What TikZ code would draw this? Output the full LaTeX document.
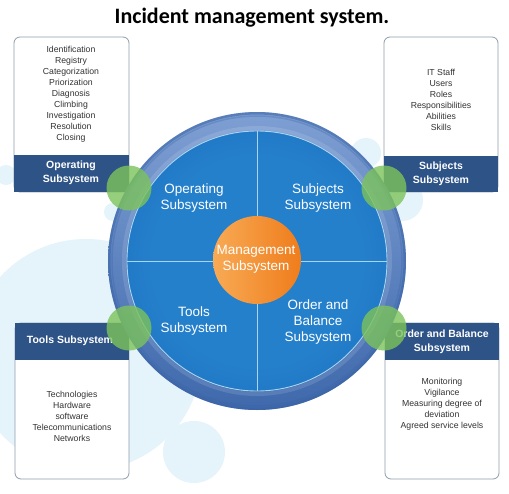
\documentclass[tikz,border=0pt]{standalone}
\usepackage{fontspec}
\setmainfont{Liberation Sans}
\newfontfamily\titlefont{Carlito}
\usetikzlibrary{shadings}
\definecolor{pale}{HTML}{E5F4FB}
\definecolor{band}{HTML}{2E5386}
\definecolor{boxline}{HTML}{8E9DAA}
\definecolor{ringTop}{HTML}{7E9FD3}
\definecolor{ringBot}{HTML}{3F69AC}
\definecolor{ringRim}{HTML}{3A63A6}
\definecolor{blueIn}{HTML}{2580CC}
\definecolor{blueOut}{HTML}{0F5CAB}
\definecolor{crossline}{HTML}{A9D5F2}
\definecolor{orL}{HTML}{F8AA55}
\definecolor{orR}{HTML}{EF7D1C}
\definecolor{grn}{HTML}{7CC35B}
\definecolor{txt}{HTML}{333333}
\pgfdeclareradialshading{innershade}{\pgfpoint{0bp}{0bp}}{color(0bp)=(blueIn); color(20bp)=(blueIn); color(50bp)=(blueOut)}
\tikzset{
  blob/.style={fill=pale, draw=none},
  infobox/.style={draw=boxline, line width=0.8pt, fill=white, rounded corners=6pt},
  bandbox/.style={fill=band, draw=none},
  bandtext/.style={text=white, font=\bfseries\fontsize{10.5}{14}\selectfont, align=center},
  listtext/.style={text=txt, font=\fontsize{8.7}{11}\selectfont, align=center},
  quadtext/.style={text=white, font=\fontsize{13.5}{16}\selectfont, align=center},
  greendot/.style={circle, fill=grn, fill opacity=0.8, draw=none, minimum size=45pt, inner sep=0pt},
}
\begin{document}
\begin{tikzpicture}[x=1pt,y=-1pt]
\useasboundingbox (0,0) rectangle (509,493);
\fill[white] (0,0) rectangle (509,493);
% title
\node[font=\titlefont\bfseries\fontsize{22}{26}\selectfont] (title) at (252,18) {Incident management system.};
% pale background blobs
\fill[blob] (86,355) circle (116);
\fill[blob] (194,452) circle (31);
\fill[blob] (113,212) circle (9);
\fill[blob] (402,200) circle (21);
\fill[blob] (366,153) circle (15);
\fill[blob] (6,175) circle (10);
% boxes
\draw[infobox] (14,37) rectangle (129,192);
\fill[bandbox] (14,155) rectangle (129,192);
\draw[infobox] (384,37) rectangle (498,192);
\fill[bandbox] (384,156) rectangle (498,192);
\draw[infobox] (15,323) rectangle (129,479);
\fill[bandbox] (15,323) rectangle (129,360);
\draw[infobox] (385,323) rectangle (499,479);
\fill[bandbox] (385,323) rectangle (499,360);
% box texts
\node[listtext] (opl) at (71,94.5) {Identification\\Registry\\Categorization\\Priorization\\Diagnosis\\Climbing\\Investigation\\Resolution\\Closing};
\node[listtext] (sul) at (441,99.5) {IT Staff\\Users\\Roles\\Responsibilities\\Abilities\\Skills};
\node[listtext] (tol) at (72,416) {Technologies\\Hardware\\software\\Telecommunications\\Networks};
\node[listtext] (orl) at (442,404) {Monitoring\\Vigilance\\Measuring degree of\\deviation\\Agreed service levels};
\node[bandtext] (opb) at (71,173) {Operating\\Subsystem};
\node[bandtext] (sub) at (441,174) {Subjects\\Subsystem};
\node[bandtext] (tob) at (70,341) {Tools Subsystem};
\node[bandtext] (orb) at (442,342) {Order and Balance\\Subsystem};
% main circle: ring
\shade[top color=ringTop, bottom color=ringBot] (257,261) circle (149);
\draw[ringRim, line width=2.5pt, opacity=0.55] (257,261) circle (147.7);
\draw[ringRim, line width=1.5pt, opacity=0.3] (257,261) circle (145);
\draw[white, line width=4pt, opacity=0.12] (257,261) circle (133);
% inner disc
\shade[shading=innershade] (257,261) circle (130);
\draw[crossline, line width=0.9pt] (257,261) circle (130);
\coordinate (ctop) at (257,131);
\coordinate (cbot) at (257,391);
\coordinate (cleft) at (127,261);
\coordinate (cright) at (387,261);
\draw[crossline, line width=0.9pt] (ctop) -- (cbot);
\draw[crossline, line width=0.9pt] (cleft) -- (cright);
\shade[left color=orL, right color=orR] (257,260) circle (44);
\node[quadtext] (mg) at (256,259.5) {Management\\Subsystem};
\node[quadtext] (q1) at (194,198) {Operating\\Subsystem};
\node[quadtext] (q2) at (318,198) {Subjects\\Subsystem};
\node[quadtext] (q3) at (194,321) {Tools\\Subsystem};
\node[quadtext] (q4) at (318,322) {Order and\\Balance\\Subsystem};
% green connectors
\node[greendot] (g1) at (129,188) {};
\node[greendot] (g2) at (384,188) {};
\node[greendot] (g3) at (129,328) {};
\node[greendot] (g4) at (384,328) {};
\end{tikzpicture}
\end{document}
